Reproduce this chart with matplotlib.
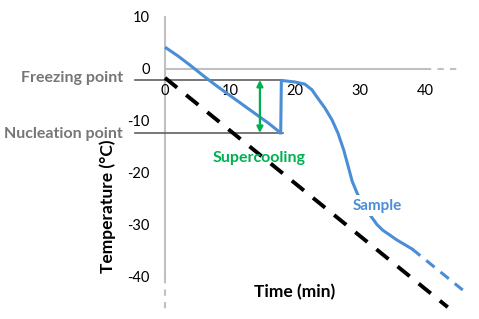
import matplotlib
matplotlib.use("Agg")
import matplotlib.pyplot as plt

plt.rcParams['font.family'] = ['Lato', 'DejaVu Sans']
plt.rcParams['axes.unicode_minus'] = False

# ---- data ----
x_ticks = [0, 10, 20, 30, 40]
y_ticks = [-40, -30, -20, -10, 0, 10]

# sample curve: cooling phase (supercooled)
cool_t = [0, 2, 4, 6, 8, 10, 12, 14, 16, 17.8]
cool_T = [4.2, 2.5, 0.6, -1.4, -3.3, -5.1, -6.9, -8.7, -10.5, -12.3]
# after nucleation: jump to freezing point, plateau, then freeze-down
freeze_t = [17.8, 17.9, 18.6, 20.0, 21.5, 22.6, 23.5, 24.6, 25.7, 26.6,
            27.5, 28.2, 28.8, 29.6, 30.6, 31.8, 32.6, 33.5, 35.7, 38.0]
freeze_T = [-12.3, -2.2, -2.3, -2.5, -2.9, -4.0, -5.6, -7.5, -9.8, -12.3,
            -15.6, -18.8, -21.6, -24.0, -26.3, -28.5, -29.9, -31.0, -32.9, -34.6]
# extrapolated (dashed) tail of the sample
tail_t = [38.0, 45.8]
tail_T = [-34.6, -42.5]
# reference (dashed black) cooling line
ref_t = [0, 43.5]
ref_T = [-1.7, -45.8]

freezing_point = -2.1
nucleation_point = -12.3
guide_t = [-4.6, 18.2]
arrow_t = 14.6

BLUE = '#4A8ED6'
GREEN = '#00B050'
GRAY_TXT = '#767676'
AXIS = '#C0C0C0'

fig = plt.figure(figsize=(4.79, 3.19), dpi=100)
ax = fig.add_axes([0, 0, 1, 1])
# pixel mapping: t=0 at x=165px, 6.5 px/min; T=0 at y=69px, 5.2 px/degC
ax.set_xlim(-165 / 6.5, (479 - 165) / 6.5)
ax.set_ylim((69 - 319) / 5.2, 69 / 5.2)
ax.patch.set_visible(False)

for s in ['top', 'right']:
    ax.spines[s].set_visible(False)
ax.spines['left'].set_position(('data', 0))
ax.spines['bottom'].set_position(('data', 0))
ax.spines['left'].set_bounds(-40, 10)
ax.spines['bottom'].set_bounds(0, 40)
for s in ['left', 'bottom']:
    ax.spines[s].set_color(AXIS)
    ax.spines[s].set_linewidth(1.5)
    ax.spines[s].set_zorder(1)
# dashed axis extensions
ax.plot([0, 0], [-40, -46.3], color=AXIS, lw=1.5, ls=(0, (3, 3)), zorder=1)
ax.plot([40, 45.4], [0, 0], color=AXIS, lw=1.5, ls=(0, (3, 3)), zorder=1)

ax.set_xticks(x_ticks)
ax.set_yticks(y_ticks)
ax.set_xticklabels([str(v) for v in x_ticks])
ax.set_yticklabels([str(v) for v in y_ticks])
ax.tick_params(axis='both', length=0, labelsize=10.5, colors='black')
ax.tick_params(axis='x', pad=11)
ax.tick_params(axis='y', pad=11)

# freezing / nucleation guide lines
ax.plot(guide_t, [freezing_point] * 2, color='#606060', lw=1.2, zorder=2)
ax.plot(guide_t, [nucleation_point] * 2, color='#606060', lw=1.2, zorder=2)

# reference dashed line
ax.plot(ref_t, ref_T, color='black', lw=2.8, ls=(0, (4, 3)), zorder=3)

# sample curve
ax.plot(cool_t, cool_T, color=BLUE, lw=2.2, zorder=4, solid_capstyle='butt')
ax.plot(freeze_t, freeze_T, color=BLUE, lw=2.2, zorder=4, solid_joinstyle='round')
ax.plot(tail_t, tail_T, color=BLUE, lw=2.2, ls=(0, (3.5, 2.5)), zorder=4)

# supercooling arrow
ax.annotate('', xy=(arrow_t, freezing_point), xytext=(arrow_t, nucleation_point),
            arrowprops=dict(arrowstyle='<|-|>', color=GREEN, lw=1.6,
                            mutation_scale=9, shrinkA=0, shrinkB=0), zorder=5)

# labels
ax.text(-6.5, freezing_point + 0.3, 'Freezing point', ha='right', va='center',
        fontsize=11.5, fontweight='bold', color=GRAY_TXT)
ax.text(-6.5, nucleation_point - 0.2, 'Nucleation point', ha='right', va='center',
        fontsize=11.5, fontweight='bold', color=GRAY_TXT)
ax.text(14.5, -17.1, 'Supercooling', ha='center', va='center',
        fontsize=11.5, fontweight='bold', color=GREEN, zorder=6)
ax.text(32.6, -26.3, 'Sample', ha='center', va='center', fontsize=11,
        fontweight='bold', color=BLUE, zorder=6,
        bbox=dict(facecolor='white', edgecolor='none', pad=2.5))
ax.text(20.0, -42.9, 'Time (min)', ha='center', va='center',
        fontsize=12.5, fontweight='bold', color='black')
ax.text(-8.8, -26.3, 'Temperature (°C)', ha='center', va='center', rotation=90,
        fontsize=12.5, fontweight='bold', color='black')

fig.savefig('out.png', dpi=100)
